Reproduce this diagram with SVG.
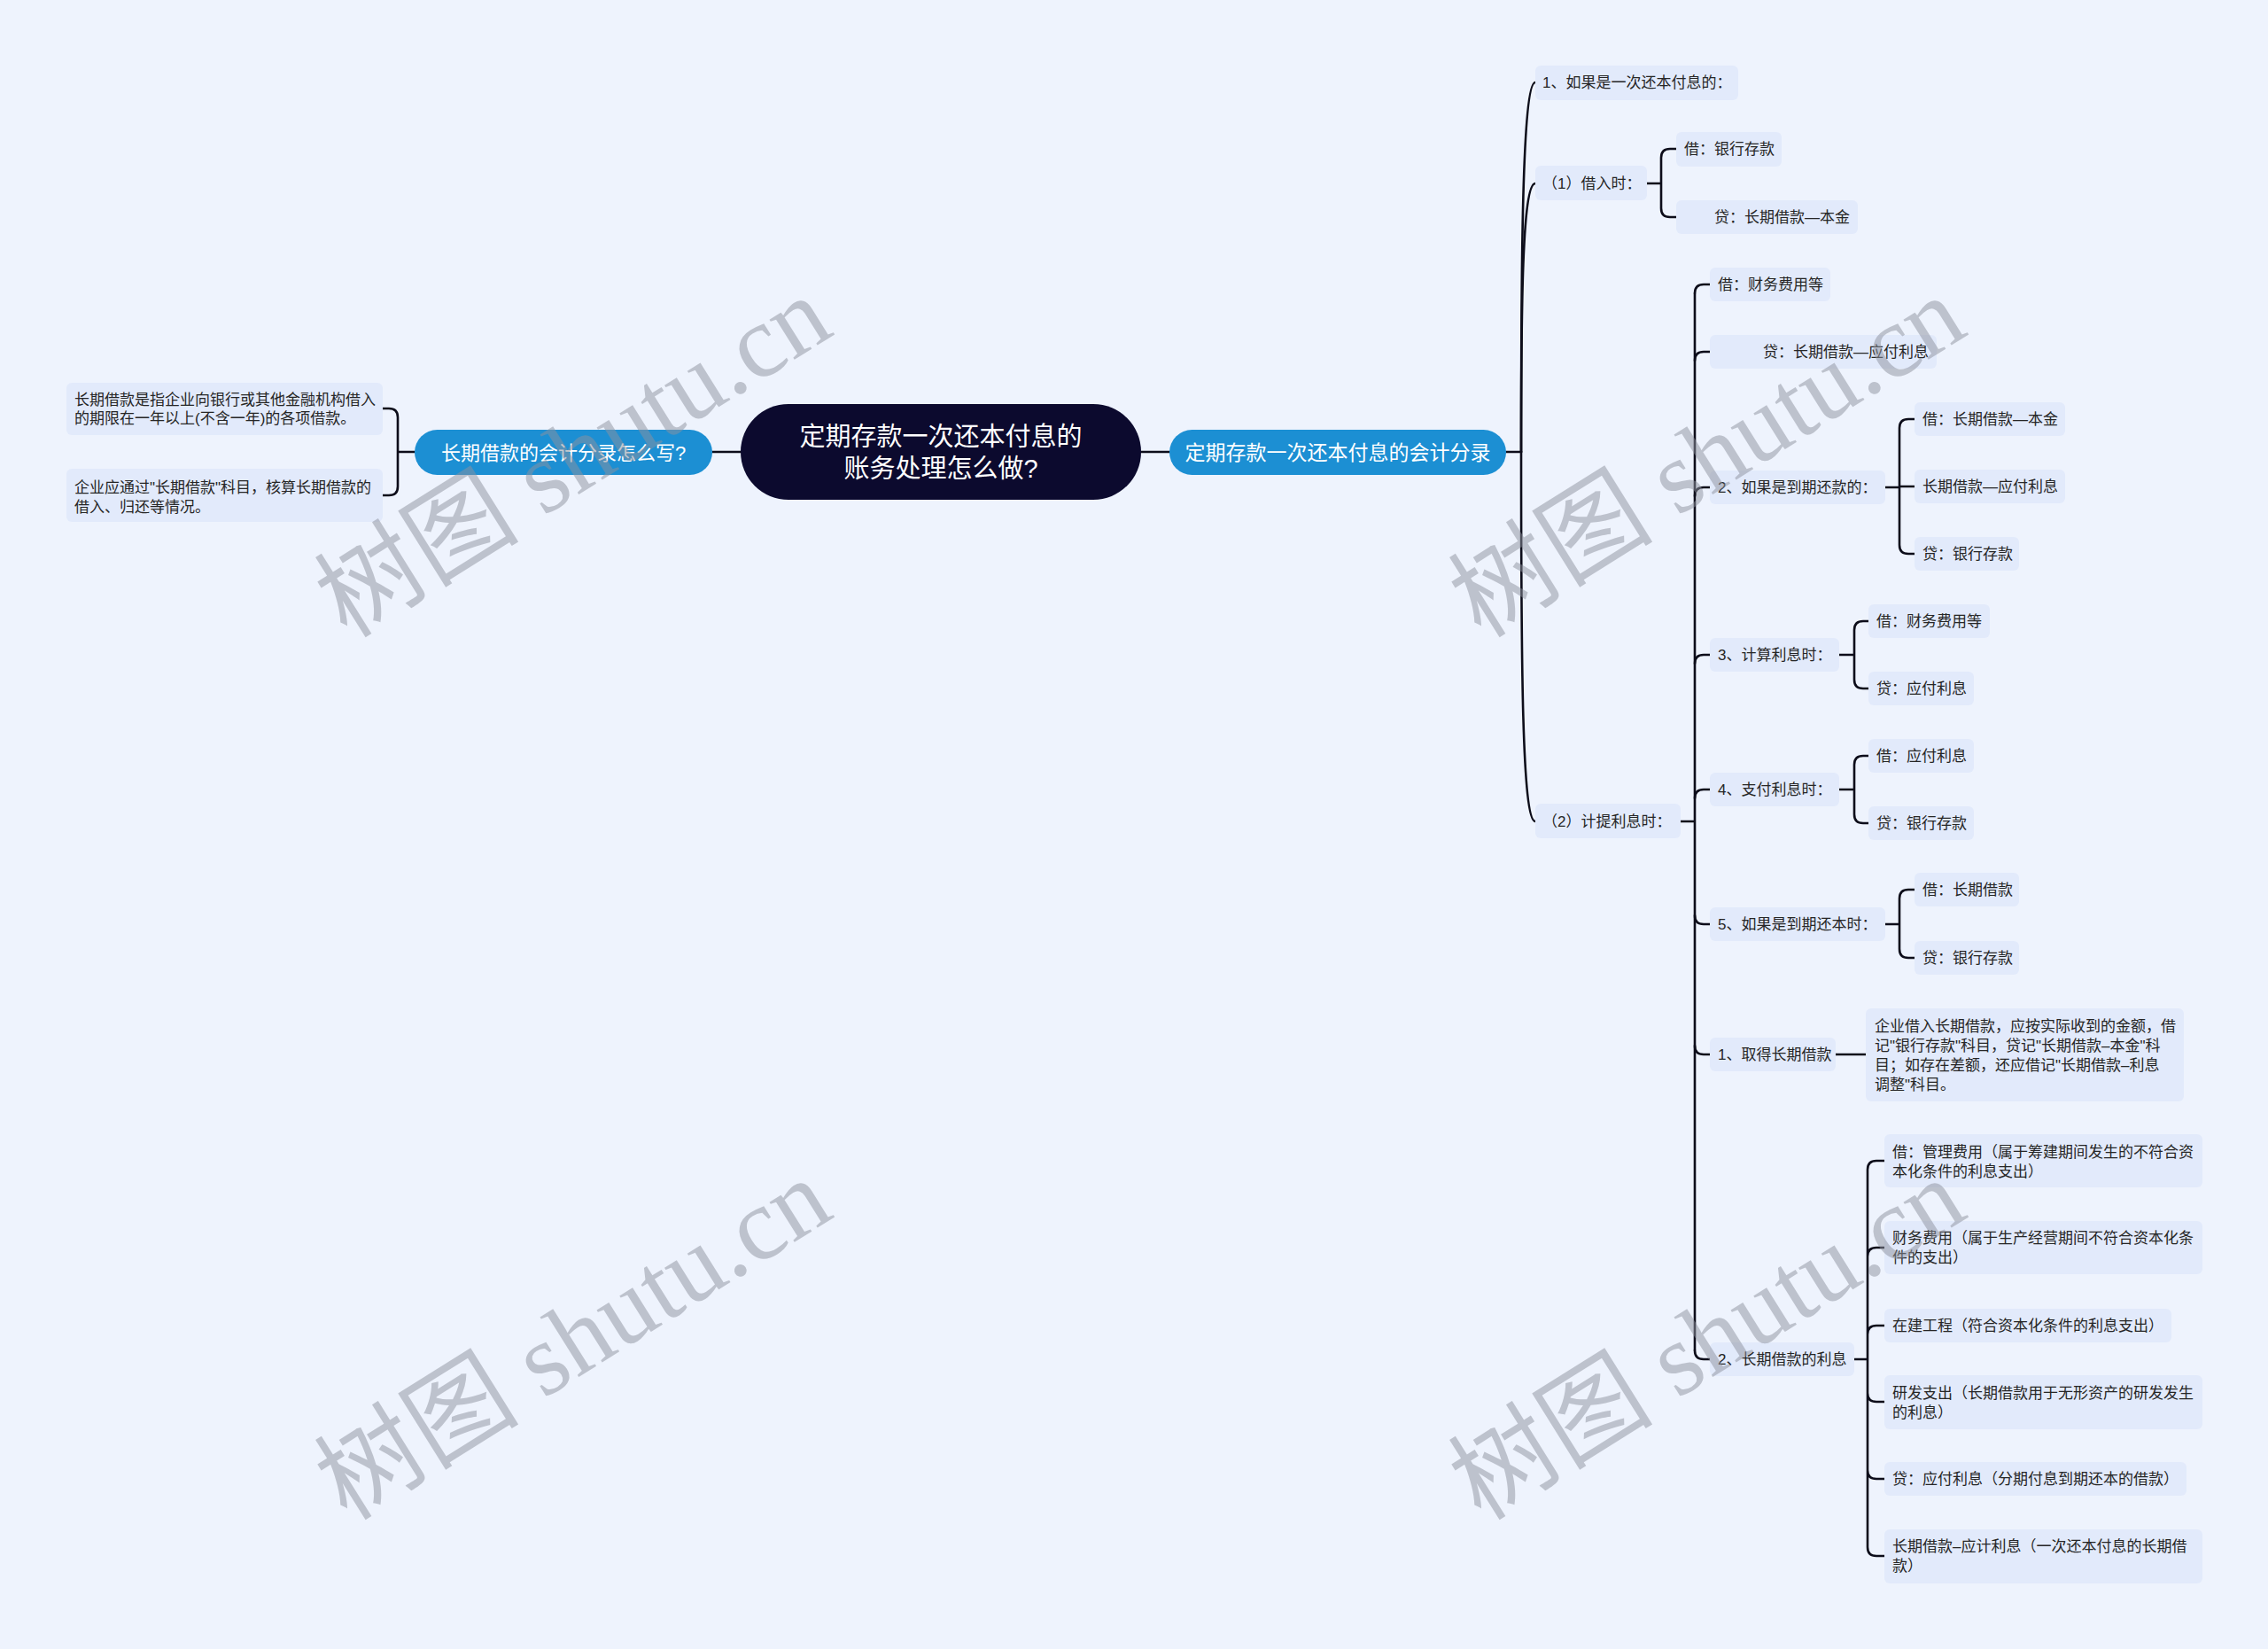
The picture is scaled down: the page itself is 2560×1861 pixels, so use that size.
<svg xmlns="http://www.w3.org/2000/svg" width="2560" height="1861" viewBox="0 0 2560 1861">
<style>
.bg{fill:#EEF3FD}
.n{fill:#E2EAFB}
.t{font-family:"Liberation Sans","Noto Sans CJK SC",sans-serif;font-size:17px;fill:#262626;dominant-baseline:central}
.blue{fill:#1C8FD3}
.bt{font-family:"Liberation Sans","Noto Sans CJK SC",sans-serif;fill:#ffffff;dominant-baseline:central;text-anchor:middle}
.c{fill:none;stroke:#0d0d1a;stroke-width:2.6;stroke-linecap:round;stroke-linejoin:round}
.wm{font-family:"Liberation Serif","Noto Sans CJK SC",serif;font-size:116px;fill:#8e929e;opacity:0.5;text-anchor:middle;dominant-baseline:central}
</style>
<rect class="bg" x="0" y="0" width="2560" height="1861"/>

<g id="connectors">
<path class="c" d="M804,510 L836,510"/>
<path class="c" d="M1288,510 L1320,510"/>
<path class="c" d="M468,510 L449,510 M432,461 L439,461 Q449,461 449,471 L449,549 Q449,559 439,559 L432,559"/>
<path class="c" d="M1700,510 L1717,510"/>
<path class="c" d="M1717,510 C1717,300 1718,93 1733,93"/>
<path class="c" d="M1717,510 C1717,350 1718,207 1733,207"/>
<path class="c" d="M1717,510 C1717,750 1718,927 1733,927"/>
<path class="c" d="M1859,207 L1875,207 M1892,168 L1885,168 Q1875,168 1875,178 L1875,235 Q1875,245 1885,245 L1892,245"/>
<path class="c" d="M1897,927 L1913,927 M1913,331 L1913,1524"/>
<path class="c" d="M1913,331 Q1913,321 1923,321 L1930,321 M1913,407 Q1913,397 1923,397 L1930,397 M1913,560 Q1913,550 1923,550 L1930,550 M1913,749 Q1913,739 1923,739 L1930,739 M1913,901 Q1913,891 1923,891 L1930,891 M1913,1033 Q1913,1043 1923,1043 L1930,1043 M1913,1180 Q1913,1190 1923,1190 L1930,1190 M1913,1524 Q1913,1534 1923,1534 L1930,1534"/>
<path class="c" d="M2128,550 L2144,550 M2161,473 L2154,473 Q2144,473 2144,483 L2144,615 Q2144,625 2154,625 L2161,625 M2144,549 L2161,549"/>
<path class="c" d="M2076,739 L2093,739 M2109,701 L2103,701 Q2093,701 2093,711 L2093,767 Q2093,777 2103,777 L2109,777"/>
<path class="c" d="M2076,891 L2093,891 M2109,853 L2103,853 Q2093,853 2093,863 L2093,919 Q2093,929 2103,929 L2109,929"/>
<path class="c" d="M2128,1043 L2144,1043 M2161,1004 L2154,1004 Q2144,1004 2144,1014 L2144,1071 Q2144,1081 2154,1081 L2161,1081"/>
<path class="c" d="M2072,1190 L2106,1190"/>
<path class="c" d="M2093,1534 L2108,1534 M2127,1310 L2118,1310 Q2108,1310 2108,1320 L2108,1746 Q2108,1756 2118,1756 L2127,1756 M2108,1418 Q2108,1408 2118,1408 L2127,1408 M2108,1506 Q2108,1496 2118,1496 L2127,1496 M2108,1572 Q2108,1582 2118,1582 L2127,1582 M2108,1659 Q2108,1669 2118,1669 L2127,1669"/>
</g>

<g id="center">
<rect x="836" y="456" width="452" height="108" rx="54" fill="#0C0A2E"/>
<text class="bt" x="1062" y="493" font-size="29">定期存款一次还本付息的</text>
<text class="bt" x="1062" y="529" font-size="29">账务处理怎么做?</text>
</g>

<g id="left-branch">
<rect class="blue" x="468" y="485" width="336" height="51" rx="25.5"/>
<text class="bt" x="636" y="511" font-size="22">长期借款的会计分录怎么写?</text>
</g>
<g id="left-1">
<rect class="n" x="75" y="432" width="357" height="59" rx="6"/>
<text class="t" x="84" y="451">长期借款是指企业向银行或其他金融机构借入</text>
<text class="t" x="84" y="472">的期限在一年以上(不含一年)的各项借款。</text>
</g>
<g id="left-2">
<rect class="n" x="75" y="529" width="357" height="60" rx="6"/>
<text class="t" x="84" y="550">企业应通过"长期借款"科目，核算长期借款的</text>
<text class="t" x="84" y="572">借入、归还等情况。</text>
</g>

<g id="right-branch">
<rect class="blue" x="1320" y="485" width="380" height="51" rx="25.5"/>
<text class="bt" x="1510" y="511" font-size="23">定期存款一次还本付息的会计分录</text>
</g>

<g id="a1"><rect class="n" x="1733" y="74" width="229" height="39" rx="6"/><text class="t" x="1741" y="93.5">1、如果是一次还本付息的：</text></g>
<g id="a2"><rect class="n" x="1733" y="187" width="126" height="39" rx="6"/><text class="t" x="1741" y="207">（1）借入时：</text></g>
<g id="a3"><rect class="n" x="1733" y="907" width="164" height="39" rx="6"/><text class="t" x="1741" y="927">（2）计提利息时：</text></g>

<g id="b1"><rect class="n" x="1892" y="149" width="119" height="39" rx="6"/><text class="t" x="1901" y="168">借：银行存款</text></g>
<g id="b2"><rect class="n" x="1892" y="226" width="205" height="38" rx="6"/><text class="t" x="1935" y="245">贷：长期借款—本金</text></g>

<g id="c1"><rect class="n" x="1930" y="302" width="136" height="38" rx="6"/><text class="t" x="1939" y="321">借：财务费用等</text></g>
<g id="c2"><rect class="n" x="1930" y="378" width="256" height="38" rx="6"/><text class="t" x="1990" y="397">贷：长期借款—应付利息</text></g>
<g id="c3"><rect class="n" x="1930" y="531" width="198" height="38" rx="6"/><text class="t" x="1939" y="550">2、如果是到期还款的：</text></g>
<g id="c4"><rect class="n" x="1930" y="720" width="146" height="38" rx="6"/><text class="t" x="1939" y="739">3、计算利息时：</text></g>
<g id="c5"><rect class="n" x="1930" y="872" width="146" height="38" rx="6"/><text class="t" x="1939" y="891">4、支付利息时：</text></g>
<g id="c6"><rect class="n" x="1930" y="1024" width="198" height="38" rx="6"/><text class="t" x="1939" y="1043">5、如果是到期还本时：</text></g>
<g id="c7"><rect class="n" x="1930" y="1171" width="142" height="38" rx="6"/><text class="t" x="1939" y="1190">1、取得长期借款</text></g>
<g id="c8"><rect class="n" x="1930" y="1515" width="163" height="38" rx="6"/><text class="t" x="1939" y="1534">2、长期借款的利息</text></g>

<g id="d1"><rect class="n" x="2161" y="454" width="170" height="38" rx="6"/><text class="t" x="2170" y="473">借：长期借款—本金</text></g>
<g id="d2"><rect class="n" x="2161" y="530" width="170" height="38" rx="6"/><text class="t" x="2170" y="549">长期借款—应付利息</text></g>
<g id="d3"><rect class="n" x="2161" y="606" width="118" height="38" rx="6"/><text class="t" x="2170" y="625">贷：银行存款</text></g>

<g id="e1"><rect class="n" x="2109" y="682" width="137" height="38" rx="6"/><text class="t" x="2118" y="701">借：财务费用等</text></g>
<g id="e2"><rect class="n" x="2109" y="758" width="119" height="38" rx="6"/><text class="t" x="2118" y="777">贷：应付利息</text></g>
<g id="f1"><rect class="n" x="2109" y="834" width="119" height="38" rx="6"/><text class="t" x="2118" y="853">借：应付利息</text></g>
<g id="f2"><rect class="n" x="2109" y="910" width="119" height="38" rx="6"/><text class="t" x="2118" y="929">贷：银行存款</text></g>

<g id="g1"><rect class="n" x="2161" y="985" width="118" height="38" rx="6"/><text class="t" x="2170" y="1004">借：长期借款</text></g>
<g id="g2"><rect class="n" x="2161" y="1062" width="118" height="38" rx="6"/><text class="t" x="2170" y="1081">贷：银行存款</text></g>

<g id="h1"><rect class="n" x="2106" y="1138" width="359" height="105" rx="6"/>
<text class="t" x="2116" y="1158">企业借入长期借款，应按实际收到的金额，借</text>
<text class="t" x="2116" y="1180">记"银行存款"科目，贷记"长期借款–本金"科</text>
<text class="t" x="2116" y="1202">目；如存在差额，还应借记"长期借款–利息</text>
<text class="t" x="2116" y="1224">调整"科目。</text></g>

<g id="i1"><rect class="n" x="2127" y="1280" width="359" height="60" rx="6"/>
<text class="t" x="2136" y="1300">借：管理费用（属于筹建期间发生的不符合资</text>
<text class="t" x="2136" y="1322">本化条件的利息支出）</text></g>
<g id="i2"><rect class="n" x="2127" y="1378" width="359" height="60" rx="6"/>
<text class="t" x="2136" y="1397">财务费用（属于生产经营期间不符合资本化条</text>
<text class="t" x="2136" y="1419">件的支出）</text></g>
<g id="i3"><rect class="n" x="2127" y="1477" width="324" height="38" rx="6"/>
<text class="t" x="2136" y="1496">在建工程（符合资本化条件的利息支出）</text></g>
<g id="i4"><rect class="n" x="2127" y="1552" width="359" height="61" rx="6"/>
<text class="t" x="2136" y="1572">研发支出（长期借款用于无形资产的研发发生</text>
<text class="t" x="2136" y="1594">的利息）</text></g>
<g id="i5"><rect class="n" x="2127" y="1650" width="341" height="38" rx="6"/>
<text class="t" x="2136" y="1669">贷：应付利息（分期付息到期还本的借款）</text></g>
<g id="i6"><rect class="n" x="2127" y="1726" width="359" height="61" rx="6"/>
<text class="t" x="2136" y="1745">长期借款–应计利息（一次还本付息的长期借</text>
<text class="t" x="2136" y="1767">款）</text></g>

<g id="watermarks">
<text class="wm" transform="translate(647,516) rotate(-32)">树图 shutu.cn</text>
<text class="wm" transform="translate(1927,516) rotate(-32)">树图 shutu.cn</text>
<text class="wm" transform="translate(647,1512) rotate(-32)">树图 shutu.cn</text>
<text class="wm" transform="translate(1927,1512) rotate(-32)">树图 shutu.cn</text>
</g>
</svg>
